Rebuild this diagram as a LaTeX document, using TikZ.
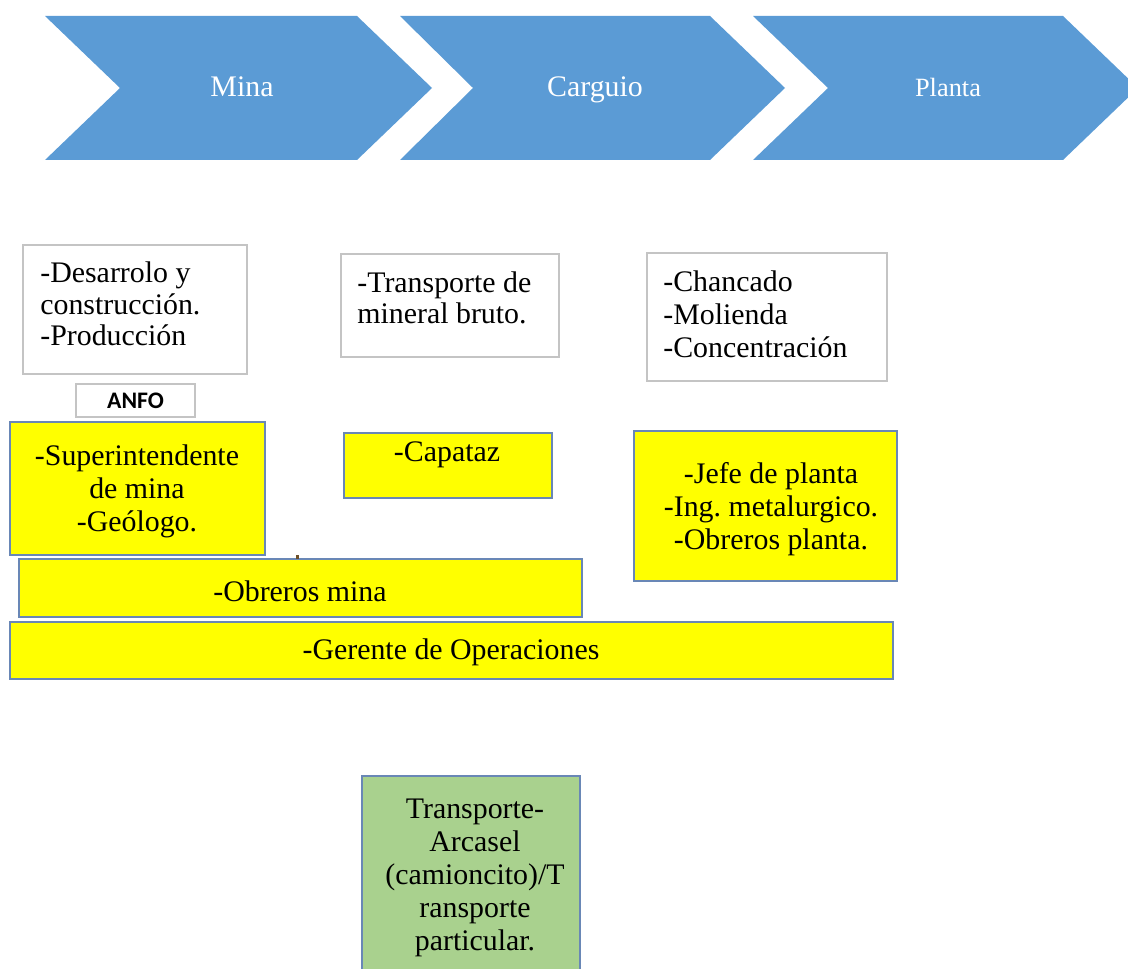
\documentclass[tikz,border=0pt]{standalone}
\usepackage{fontspec}
\setmainfont{Liberation Serif}
\newfontfamily\anfofont{Carlito}
\frenchspacing
\definecolor{chevblue}{HTML}{5B9BD5}
\definecolor{boxgray}{HTML}{C4C4C4}
\definecolor{boxyellow}{HTML}{FFFF00}
\definecolor{boxgreen}{HTML}{A9D18E}
\definecolor{bordblue}{RGB}{105,135,182}
\definecolor{markbrown}{RGB}{110,80,40}
\tikzset{
  chev/.style={fill=chevblue, draw=none},
  chevtext/.style={text=white, font=\fontsize{17}{19}\selectfont, inner sep=0pt, anchor=base},
  wbox/.style={draw=boxgray, line width=0.9pt, fill=white, inner sep=0pt},
  ybox/.style={draw=bordblue, line width=0.9pt, fill=boxyellow, inner sep=0pt},
  gbox/.style={draw=bordblue, line width=0.9pt, fill=boxgreen, inner sep=0pt},
  txt/.style={font=\fontsize{17}{18.8}\selectfont, inner sep=0pt, text=black},
}
\begin{document}
\begin{tikzpicture}[x=0.02cm, y=-0.02cm]
\useasboundingbox (0,0) rectangle (1128,969);
\clip (0,0) rectangle (1128,969);
% chevrons
\fill[chev] (45,16) -- (357,16) -- (432,88) -- (357,160) -- (45,160) -- (120,88) -- cycle;
\fill[chev] (400,16) -- (710,16) -- (785,88) -- (710,160) -- (400,160) -- (473,88) -- cycle;
\fill[chev] (753,16) -- (1063,16) -- (1138,88) -- (1063,160) -- (753,160) -- (828,88) -- cycle;
\node[chevtext] (mina) at (242,97) {Mina};
\node[chevtext] (carguio) at (595,97) {Carguio};
\node[chevtext, font=\fontsize{15}{17}\selectfont] (planta) at (948,97) {Planta};
% white boxes
\node[wbox, minimum width=224*0.02cm, minimum height=129*0.02cm] (des) at (135,309.5) {};
\node[txt, anchor=west, align=left, font=\fontsize{17}{18}\selectfont] (destxt) at (40,304) {-Desarrolo y\\construcción.\\-Producción};
\node[wbox, minimum width=218*0.02cm, minimum height=103*0.02cm] (tra) at (450,305.5) {};
\node[txt, anchor=west, align=left, font=\fontsize{17}{18}\selectfont] (tratxt) at (357,298) {-Transporte de\\mineral bruto.};
\node[wbox, minimum width=240*0.02cm, minimum height=128*0.02cm] (cha) at (767,317) {};
\node[txt, anchor=west, align=left] (chatxt) at (663,314) {-Chancado\\-Molienda\\-Concentración};
\node[wbox, minimum width=119*0.02cm, minimum height=33*0.02cm, font=\anfofont\bfseries\fontsize{13.5}{16}\selectfont] (anfo) at (135.5,400.5) {ANFO};
% yellow boxes
\node[ybox, minimum width=255*0.02cm, minimum height=133*0.02cm] (sup) at (137.5,488.5) {};
\node[txt, align=center] (suptxt) at (137,491) {-Superintendente\\de mina\\-Geólogo.};
\node[ybox, minimum width=208*0.02cm, minimum height=65*0.02cm] (cap) at (448,465.5) {};
\node[txt] (captxt) at (447,455) {-Capataz};
\node[ybox, minimum width=263*0.02cm, minimum height=150*0.02cm] (jefe) at (765.5,506) {};
\node[txt, align=center] (jefetxt) at (771,509) {-Jefe de planta\\-Ing. metalurgico.\\-Obreros planta.};
\node[ybox, minimum width=563*0.02cm, minimum height=58*0.02cm] (obr) at (300.5,588) {};
\node[txt] (obrtxt) at (300,591) {-Obreros mina};
\node[ybox, minimum width=883*0.02cm, minimum height=57*0.02cm] (ger) at (451.5,650.5) {};
\node[txt] (gertxt) at (451,652) {-Gerente de Operaciones};
\fill[markbrown] (296,555) rectangle (299,559);
% green box
\node[gbox, minimum width=218*0.02cm, minimum height=224*0.02cm] (green) at (471,888) {};
\node[txt, align=center] (greentxt) at (475,878) {Transporte-\\Arcasel\\(camioncito)/T\\ransporte\\particular.};
\end{tikzpicture}
\end{document}
